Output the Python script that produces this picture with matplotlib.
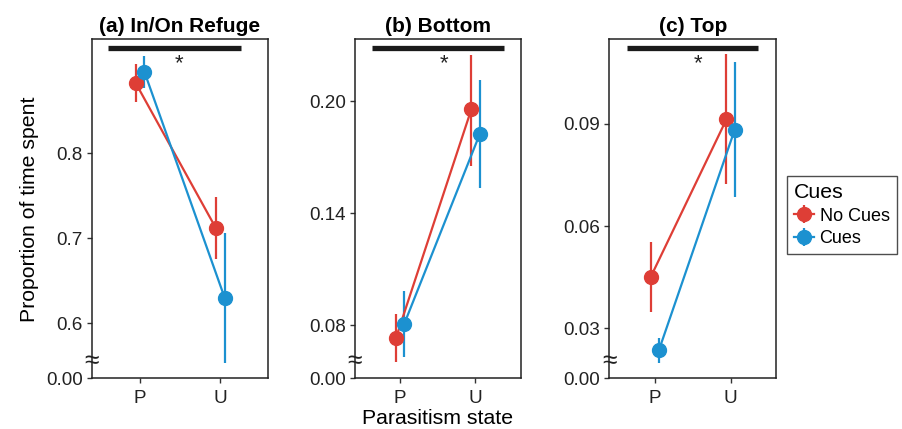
import numpy as np
import matplotlib.pyplot as plt

plt.rcParams["font.family"] = ["Liberation Sans", "DejaVu Sans"]

# ---- data ----
states = ["P", "U"]
groups = ["No Cues", "Cues"]

titles = ["(a) In/On Refuge", "(b) Bottom", "(c) Top"]

refuge_mean = {"No Cues": [0.883, 0.712], "Cues": [0.896, 0.630]}
refuge_lo = {"No Cues": [0.860, 0.676], "Cues": [0.877, 0.553]}
refuge_hi = {"No Cues": [0.905, 0.749], "Cues": [0.915, 0.706]}

bottom_mean = {"No Cues": [0.0729, 0.1955], "Cues": [0.0805, 0.1821]}
bottom_lo = {"No Cues": [0.0600, 0.1654], "Cues": [0.0627, 0.1532]}
bottom_hi = {"No Cues": [0.0857, 0.2249], "Cues": [0.0983, 0.2111]}

top_mean = {"No Cues": [0.0450, 0.0913], "Cues": [0.0236, 0.0883]}
top_lo = {"No Cues": [0.0347, 0.0722], "Cues": [0.0199, 0.0684]}
top_hi = {"No Cues": [0.0552, 0.1104], "Cues": [0.0272, 0.1081]}

yticks = [[0.6, 0.7, 0.8], [0.08, 0.14, 0.20], [0.03, 0.06, 0.09]]
ytick_fmt = ["{:.1f}", "{:.2f}", "{:.2f}"]
ylims = [(0.535, 0.934), (0.0515, 0.233), (0.0153, 0.1148)]

colors = {"No Cues": "#DE3E36", "Cues": "#1C91D0"}
dodge = {"No Cues": -0.055, "Cues": 0.055}

panels = [
    (refuge_mean, refuge_lo, refuge_hi),
    (bottom_mean, bottom_lo, bottom_hi),
    (top_mean, top_lo, top_hi),
]

# axes placement (fractions of figure)
ax_rects = [
    [0.1016, 0.1182, 0.1956, 0.790],
    [0.3928, 0.1182, 0.1839, 0.790],
    [0.6748, 0.1182, 0.1846, 0.790],
]
sig_bar = [(0.092, 0.844), (0.102, 0.898), (0.104, 0.894)]
star_x = [0.494, 0.54, 0.53]

fig = plt.figure(figsize=(9.03, 4.29), dpi=100)
axes = []
handles = []
for i, (mean, lo, hi) in enumerate(panels):
    ax = fig.add_axes(ax_rects[i])
    axes.append(ax)
    x0 = np.arange(1, len(states) + 1)
    for g in groups:
        m = np.array(mean[g])
        err = np.vstack([m - np.array(lo[g]), np.array(hi[g]) - m])
        h = ax.errorbar(x0 + dodge[g], m, yerr=err, color=colors[g],
                        marker="o", markersize=10, linewidth=1.6,
                        elinewidth=1.6, capsize=0, label=g)
        if i == 2:
            handles.append(h)

    ax.set_xlim(0.4, 2.6)
    ax.set_ylim(*ylims[i])
    ax.set_xticks(x0)
    ax.set_xticklabels(states)
    ticks = [ylims[i][0]] + yticks[i]
    ax.set_yticks(ticks)
    ax.set_yticklabels(["0.00"] + [ytick_fmt[i].format(t) for t in yticks[i]])
    ax.tick_params(axis="both", labelsize=13.6, length=3.5, width=1,
                   color="#333333", labelcolor="#222222", pad=3)
    ax.tick_params(axis="x", pad=5)
    for s in ax.spines.values():
        s.set_linewidth(1.1)
        s.set_color("#222222")
    ax.set_title(titles[i], fontsize=15, fontweight="bold", pad=5)

    # significance bar + asterisk
    b0, b1 = sig_bar[i]
    ax.plot([b0, b1], [0.976, 0.976], transform=ax.transAxes,
            color="#1a1a1a", linewidth=3.8, solid_capstyle="butt",
            clip_on=False)
    ax.text(star_x[i], 0.928, "*", transform=ax.transAxes, ha="center",
            va="center", fontsize=16, color="#222222")

    # axis break mark
    ax.text(0.0, 0.05, "≈", transform=ax.transAxes, ha="center",
            va="center", fontsize=19, color="#222222", clip_on=False)

axes[0].set_ylabel("Proportion of time spent", fontsize=15.3, labelpad=5)
axes[1].set_xlabel("Parasitism state", fontsize=15.3, labelpad=1.5)

leg = fig.legend(handles=handles, labels=groups, title="Cues",
                 loc="upper left", bbox_to_anchor=(0.8716, 0.5897),
                 fontsize=13, title_fontsize=15.3, frameon=True,
                 fancybox=False, handlelength=1.1, handletextpad=0.3,
                 borderpad=0.4, borderaxespad=0, labelspacing=0.3,
                 alignment="left")
leg.get_frame().set_edgecolor("#222222")
leg.get_frame().set_linewidth(1.0)

fig.savefig("out.png", dpi=100)
